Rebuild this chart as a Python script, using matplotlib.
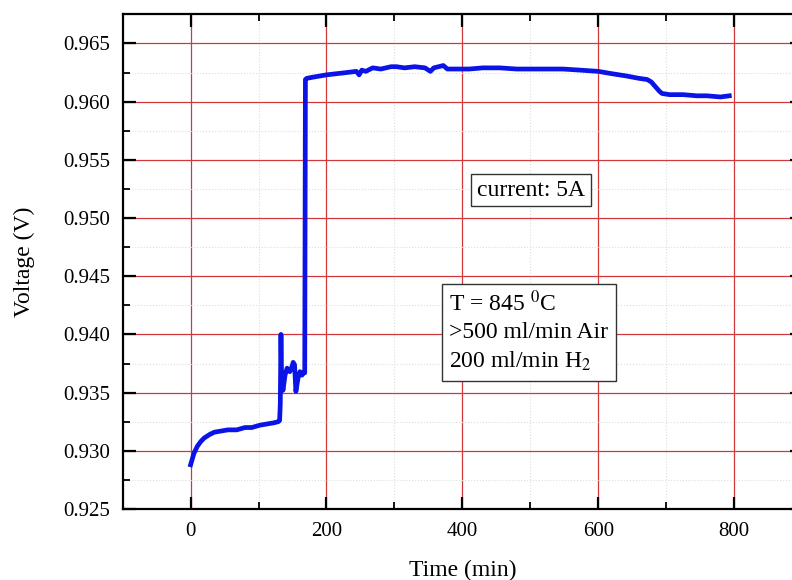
import matplotlib.pyplot as plt
from matplotlib.ticker import MultipleLocator

plt.rcParams['font.family'] = ['Liberation Serif', 'DejaVu Serif']
plt.rcParams['mathtext.fontset'] = 'stix'

# voltage trace (time in min, voltage in V)
time_min = [0, 2, 5, 10, 15, 20, 28, 35, 45, 55, 68, 80, 90, 102, 112, 122, 129, 131,
            132, 133, 134, 136, 139, 142, 146, 149, 151, 153, 155, 158, 161, 164, 166, 168,
            169, 171, 180, 190, 200, 215, 230, 244, 248, 252, 258, 268, 280, 295, 303,
            315, 330, 345, 353, 358, 365, 372, 378, 390, 410, 430, 455, 480, 500, 525, 548,
            575, 600, 620, 642, 660, 672, 678, 684, 690, 694, 705, 725, 745, 760, 780, 793]
voltage = [0.9288, 0.9292, 0.9298, 0.9304, 0.9308, 0.9311, 0.9314, 0.9316, 0.9317, 0.9318,
           0.9318, 0.9320, 0.9320, 0.9322, 0.9323, 0.9324, 0.9325, 0.9326,
           0.9340, 0.9400, 0.9360, 0.9352, 0.9365, 0.9371, 0.9368, 0.9372, 0.9376, 0.9374,
           0.9351, 0.9362, 0.9368, 0.9365, 0.9367, 0.9367,
           0.9619, 0.9620, 0.9621, 0.9622, 0.9623, 0.9624, 0.9625, 0.9626, 0.9623, 0.9627,
           0.9626, 0.9629, 0.9628, 0.9630, 0.9630,
           0.9629, 0.9630, 0.9629, 0.9626, 0.9629, 0.9630, 0.9631, 0.9628, 0.9628, 0.9628,
           0.9629, 0.9629, 0.9628, 0.9628, 0.9628, 0.9628,
           0.9627, 0.9626, 0.9624, 0.9622, 0.9620, 0.9619, 0.9617, 0.9613, 0.9609, 0.9607,
           0.9606, 0.9606, 0.9605, 0.9605, 0.9604, 0.9605]

x_ticks = [0, 200, 400, 600, 800]
y_ticks = [0.925, 0.930, 0.935, 0.940, 0.945, 0.950, 0.955, 0.960, 0.965]

fig = plt.figure(figsize=(7.92, 5.80), dpi=100)
ax = fig.add_axes([0.1549, 0.1224, 0.8577, 0.8529])

ax.plot(time_min, voltage, color='#0a14e6', lw=3.4, solid_joinstyle='round')

ax.set_xlim(-100, 900)
ax.set_ylim(0.925, 0.9675)
ax.set_xticks(x_ticks)
ax.set_yticks(y_ticks)
ax.set_yticklabels([f'{v:.3f}' for v in y_ticks])
ax.xaxis.set_minor_locator(MultipleLocator(100))
ax.yaxis.set_minor_locator(MultipleLocator(0.0025))

ax.grid(which='major', color='#d2383a', lw=0.9)
ax.grid(which='minor', color='#d6e2d8', lw=0.8, ls=':')
ax.set_axisbelow(True)

ax.tick_params(which='major', direction='in', length=9, width=1.6, labelsize=15,
               top=True, right=True, pad=9)
ax.tick_params(which='minor', direction='in', length=5, width=1.3, top=True, right=True)
for s in ax.spines.values():
    s.set_linewidth(1.6)

ax.set_xlabel('Time (min)', fontsize=17, labelpad=14)
ax.set_ylabel('Voltage (V)', fontsize=17, labelpad=20)

ax.text(501, 0.9524, 'current: 5A', fontsize=17, ha='center', va='center',
        bbox=dict(boxstyle='square,pad=0.25', fc='white', ec='#333333', lw=1.0))
ax.text(381, 0.9402, 'T = 845 $^0$C\n>500 ml/min Air\n200 ml/min H$_2$', fontsize=17,
        ha='left', va='center', linespacing=1.38,
        bbox=dict(boxstyle='square,pad=0.3', fc='white', ec='#333333', lw=1.0))

fig.savefig('out.png', dpi=100)
